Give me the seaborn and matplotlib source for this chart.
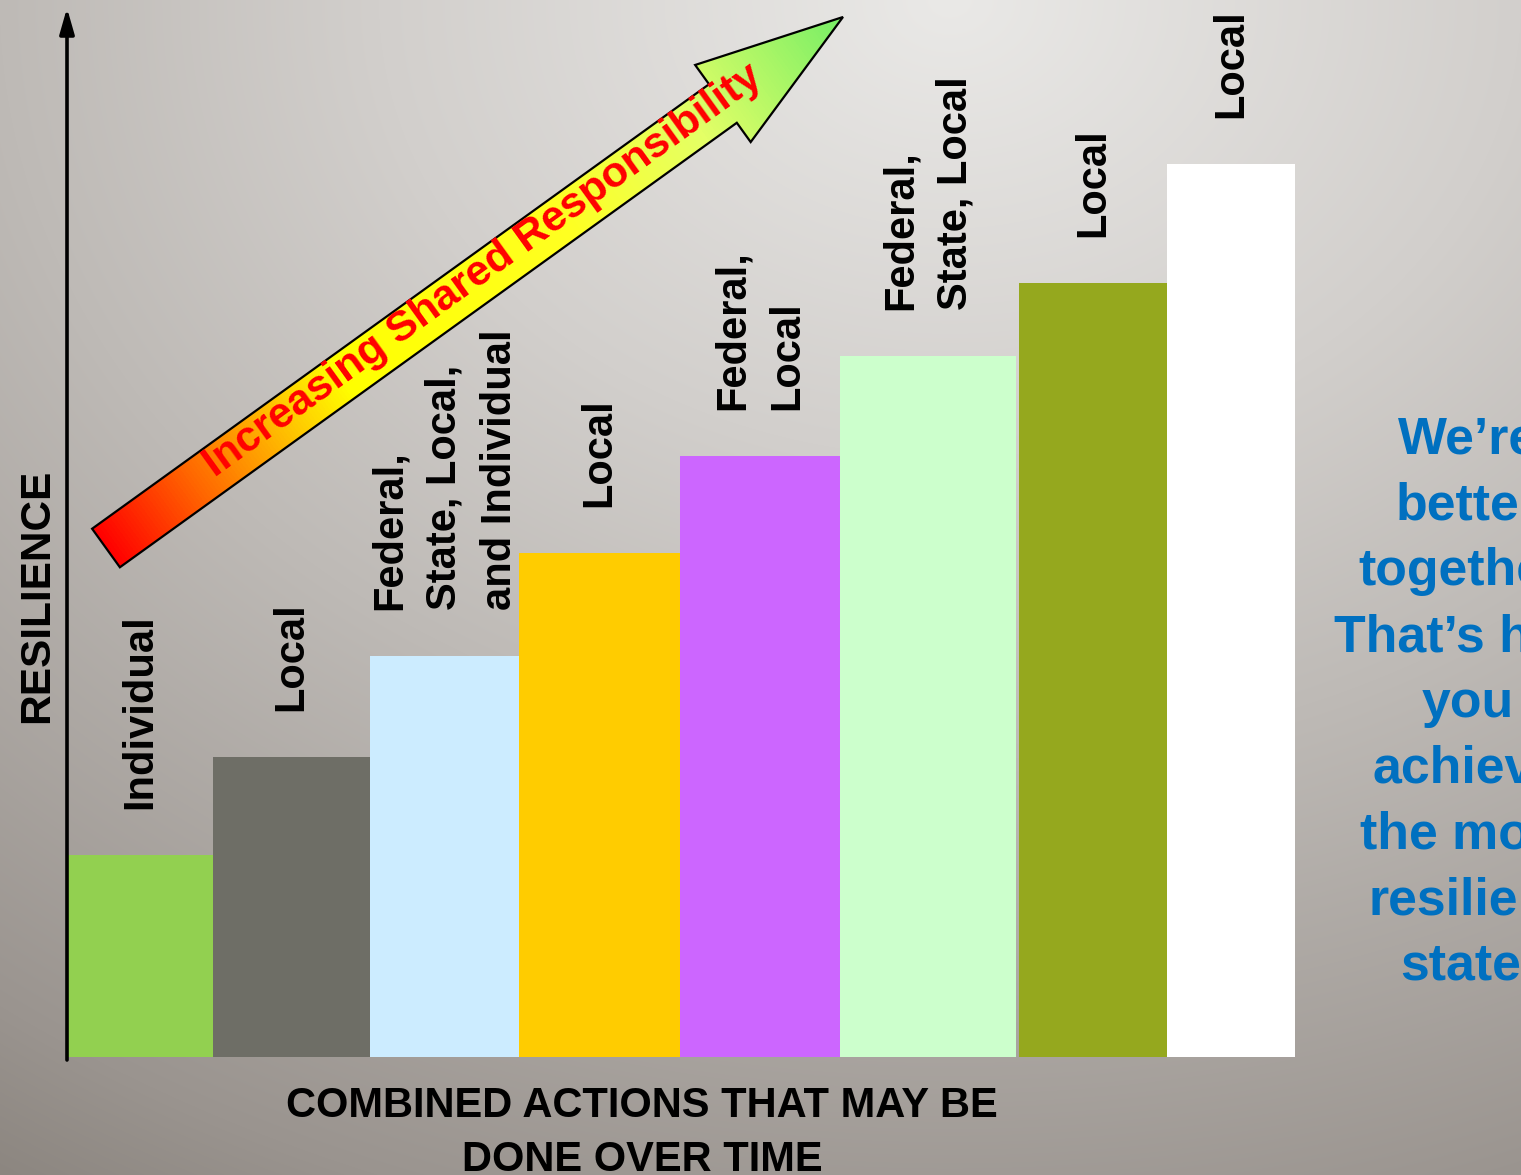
import numpy as np
import pandas as pd
import matplotlib
matplotlib.use("Agg")
import matplotlib.pyplot as plt
import seaborn as sns
from matplotlib.patches import Polygon
from matplotlib.colors import LinearSegmentedColormap

# ---------------- data ----------------
stage_labels = ["Individual", "Local", "Federal,\nState, Local,\nand Individual", "Local",
                "Federal,\nLocal", "Federal,\nState, Local", "Local", "Local"]
resilience = [202, 300, 401, 504, 601, 701, 774, 893]
action_start = [68, 213, 370, 519, 680, 840, 1019, 1167]
action_end = [213, 370, 519, 680, 840, 1016, 1167, 1295]
bar_colors = ["#92D050", "#6E6E66", "#CCECFF", "#FFCC00",
              "#CC66FF", "#CCFFCC", "#95A81E", "#FFFFFF"]
x_title = "COMBINED ACTIONS THAT MAY BE\nDONE OVER TIME"
y_title = "RESILIENCE"
arrow_text = "Increasing Shared Responsibility"
side_note = "We\u2019re\nbetter\ntogether.\nThat\u2019s how\nyou\nachieve\nthe most\nresilient\nstate."

# ---------------- setup ----------------
W, H = 1521, 1175
BASE = 1057  # pixel row of the baseline

sns.set_theme(style="white")
plt.rcParams["font.family"] = ["Liberation Sans", "DejaVu Sans"]

fig = plt.figure(figsize=(W / 100, H / 100), dpi=100)
ax = fig.add_axes([0, 0, 1, 1])


def P(x, y):
    """pixel (from top-left) -> data coords"""
    return x, BASE - y


# ---------------- background gradient ----------------
yy, xx = np.mgrid[0:H, 0:W] + 0.5
dist = np.hypot(xx - 950, yy * 1.25)
anch = [0, 571, 950, 1576, 1749]
R = np.interp(dist, anch, [234, 210, 190, 154, 140])
G = np.interp(dist, anch, [233, 207, 186, 148, 134])
B = np.interp(dist, anch, [231, 204, 182, 143, 128])
bg = np.dstack([R, G, B]) / 255.0
ax.imshow(bg, extent=(0, W, BASE - H, BASE), origin="upper", aspect="auto",
          zorder=0, interpolation="bilinear")

# ---------------- bars (variable width) ----------------
stages = [f"s{i}" for i in range(len(resilience))]
df = pd.DataFrame({
    "mid": [(s + e) / 2 for s, e in zip(action_start, action_end)],
    "res": resilience,
    "stage": stages,
})
edges = sorted(set(action_start) | set(action_end))
sns.histplot(data=df, x="mid", weights="res", hue="stage", bins=edges,
             palette=dict(zip(stages, bar_colors)), multiple="layer",
             alpha=1, linewidth=0, edgecolor="none", legend=False, ax=ax, zorder=2)

# labels above bars
for mid, h, lab in zip(df["mid"], resilience, stage_labels):
    ax.text(mid, h + 46, lab, rotation=90, ha="center", va="bottom",
            fontsize=30, fontweight="bold", color="black",
            linespacing=1.49, multialignment="left", zorder=6)

# ---------------- axes arrows ----------------
ax.annotate("", xy=P(67, 8), xytext=P(67, 1060),
            arrowprops=dict(arrowstyle="-|>,head_length=0.7,head_width=0.2",
                            lw=2.6, color="black", shrinkA=0, shrinkB=0,
                            mutation_scale=22), zorder=7)
ax.annotate("", xy=P(1523, 1058), xytext=P(64, 1058),
            arrowprops=dict(arrowstyle="-|>,head_length=0.7,head_width=0.2",
                            lw=3.2, color="black", shrinkA=0, shrinkB=0,
                            mutation_scale=22), zorder=7)

# ---------------- big gradient arrow ----------------
A = np.array([106.0, 548.0])
T = np.array([843.0, 17.0])
L = np.linalg.norm(T - A)
u = (T - A) / L
n = np.array([-u[1], u[0]])
hw_s, hw_h, head_len = 23.75, 47.5, 148.0
N = T - head_len * u
pts_px = [A - hw_s * n, N - hw_s * n, N - hw_h * n, T, N + hw_h * n, N + hw_s * n, A + hw_s * n]
pts = [P(p[0], p[1]) for p in pts_px]
poly = Polygon(pts, closed=True, facecolor="none", edgecolor="black", lw=1.6, zorder=5,
               joinstyle="miter")
ax.add_patch(poly)

cmap = LinearSegmentedColormap.from_list("resp", [
    (0.0, "#FF0000"), (0.12, "#FF6600"), (0.25, "#FFCC00"), (0.32, "#FFFF00"),
    (0.62, "#FFFF22"), (0.80, "#E4FF66"), (1.0, "#77EE66")])
x0, x1, y0, y1 = 80, 860, 5, 580
gy, gx = np.mgrid[y0:y1, x0:x1] + 0.5
t = np.clip(((gx - A[0]) * u[0] + (gy - A[1]) * u[1]) / L, 0, 1)
img = ax.imshow(cmap(t), extent=(x0, x1, BASE - y1, BASE - y0), origin="upper",
                aspect="auto", zorder=4, interpolation="bilinear")
img.set_clip_path(poly)

tp = A + 468 * u + 7 * n
ax.text(*P(tp[0], tp[1]), arrow_text, rotation=np.degrees(np.arctan2(-u[1], u[0])),
        rotation_mode="anchor", ha="center", va="baseline", color="#FF0000",
        fontsize=31, fontweight="bold", zorder=6)

# ---------------- titles ----------------
ax.text(*P(48, 596), y_title, rotation=90, rotation_mode="anchor", ha="center",
        va="baseline", fontsize=30.5, fontweight="bold", color="black", zorder=6)
ax.text(*P(642, 1086), x_title, ha="center", va="top", fontsize=30,
        fontweight="bold", color="black", linespacing=1.46,
        multialignment="center", zorder=6)

ax.text(*P(1468, 416), side_note, ha="center", va="top", fontsize=37.4,
        fontweight="bold", color="#0070C0", linespacing=1.44,
        multialignment="center", zorder=6)

ax.set_xlim(0, W)
ax.set_ylim(BASE - H, BASE)
ax.set_axis_off()

fig.savefig("out.png", dpi=100)
